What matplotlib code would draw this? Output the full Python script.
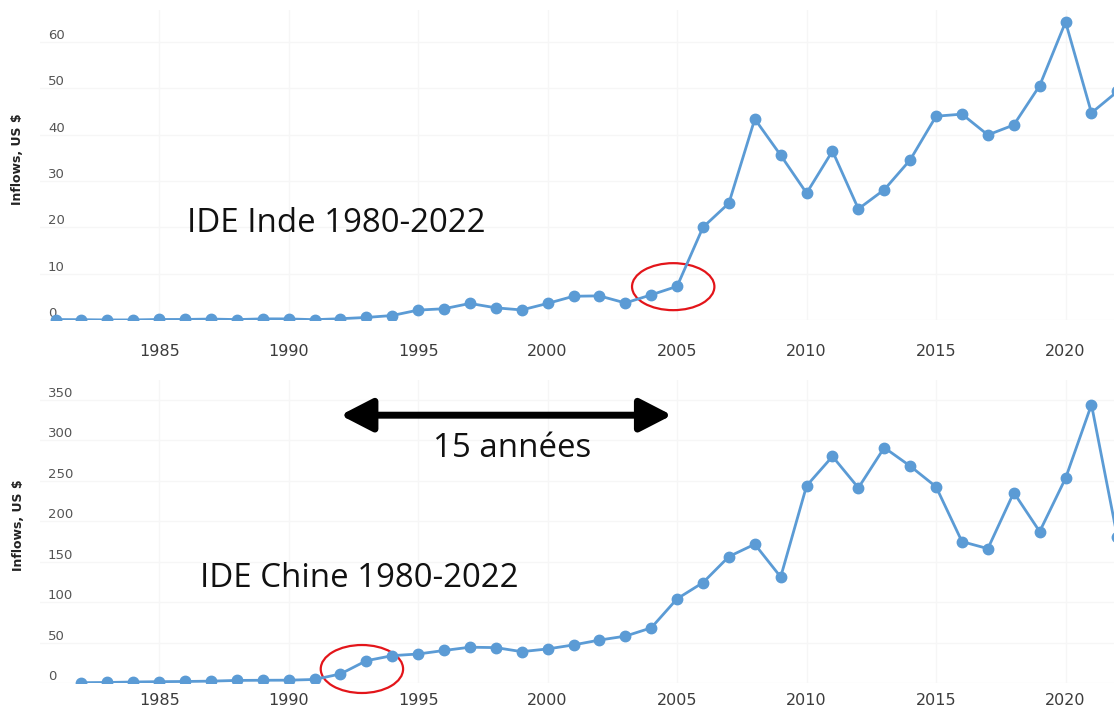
import matplotlib
matplotlib.use("Agg")
import matplotlib.pyplot as plt
from matplotlib.patches import Ellipse

# ---- data (US$ billions) ----
years_india = list(range(1981, 2023))
fdi_india = [0.10, 0.07, 0.01, 0.02, 0.11, 0.12, 0.21, 0.09, 0.25, 0.24,
             0.07, 0.28, 0.55, 0.97, 2.14, 2.43, 3.58, 2.63, 2.17, 3.58,
             5.13, 5.21, 3.68, 5.43, 7.27, 20.03, 25.23, 43.41, 35.58, 27.40,
             36.50, 23.99, 28.15, 34.58, 44.01, 44.46, 39.97, 42.12, 50.61, 64.36,
             44.73, 49.35]

years_china = list(range(1982, 2023))
fdi_china = [0.43, 0.64, 1.26, 1.66, 1.88, 2.31, 3.19, 3.39, 3.49, 4.37,
             11.16, 27.52, 33.79, 35.85, 40.18, 44.24, 43.75, 38.75, 42.10, 47.05,
             53.07, 57.90, 68.12, 104.11, 124.08, 156.25, 171.53, 131.06, 243.70, 280.07,
             241.21, 290.93, 268.10, 242.49, 174.75, 166.08, 235.37, 187.17, 253.10, 344.07,
             180.17]

x_ticks = [1985, 1990, 1995, 2000, 2005, 2010, 2015, 2020]
y_ticks_india = [0, 10, 20, 30, 40, 50, 60]
y_ticks_china = [0, 50, 100, 150, 200, 250, 300, 350]

title_india = "IDE Inde 1980-2022"
title_china = "IDE Chine 1980-2022"
arrow_label = "15 années"
ylabel = "Inflows, US $"

LINE = "#5b9bd5"
W, H = 1114, 706

fig = plt.figure(figsize=(W / 100, H / 100), dpi=100)
fig.patch.set_facecolor("white")

ax1 = fig.add_axes([40 / W, 1 - 320 / H, 1074 / W, 310 / H])
ax2 = fig.add_axes([40 / W, 1 - 683 / H, 1074 / W, 303 / H])

XLIM = (1980.4, 2021.87)


def style(ax, yticks, ylim, xpad):
    ax.set_xlim(*XLIM)
    ax.set_ylim(*ylim)
    for s in ax.spines.values():
        s.set_visible(False)
    ax.set_xticks(x_ticks)
    ax.set_yticks(yticks)
    ax.tick_params(axis="x", length=0, pad=xpad, labelsize=11.5, labelcolor="#3c3c3c")
    ax.tick_params(axis="y", length=0, pad=-5.8, labelsize=9.5, labelcolor="#555555")
    for lbl in ax.get_yticklabels():
        lbl.set_ha("left")
        lbl.set_va("bottom")
    ax.grid(True, color="#f6f6f6", linewidth=1.0)
    ax.set_axisbelow(True)
    ax.set_ylabel(ylabel, fontsize=9, fontweight="bold", color="#222222")


style(ax1, y_ticks_india, (0, 66.95), 17)
style(ax2, y_ticks_china, (0, 374.5), 7)
ax1.yaxis.set_label_coords(-0.0149, 0.519)
ax2.yaxis.set_label_coords(-0.0140, 0.521)

ax1.plot(years_india, fdi_india, color=LINE, lw=2.0, marker="o", ms=7.5,
         markerfacecolor=LINE, markeredgecolor=LINE)
ax2.plot(years_china, fdi_china, color=LINE, lw=2.0, marker="o", ms=7.5,
         markerfacecolor=LINE, markeredgecolor=LINE)

# annotations
FONT = "Open Sans"
FS = 23.8
ax1.text(1986.09, 19.0, title_india, fontsize=FS, family=FONT, color="#111111",
         va="baseline", ha="left")
ax2.text(1986.59, 118.7, title_china, fontsize=FS, family=FONT, color="#111111",
         va="baseline", ha="left")
ax2.text(1995.58, 279, arrow_label, fontsize=FS, family=FONT, color="#111111",
         va="baseline", ha="left")

ax2.annotate("", xy=(1992.0, 331), xytext=(2004.8, 331),
             arrowprops=dict(arrowstyle="<|-|>,head_length=0.97,head_width=0.5",
                             mutation_scale=20, lw=5, color="black",
                             shrinkA=0, shrinkB=0),
             annotation_clip=False)

ax1.add_patch(Ellipse((2004.85, 7.2), 3.18, 10.15, fill=False, edgecolor="#e3151a",
                      lw=1.6, clip_on=False))
ax2.add_patch(Ellipse((1992.83, 17.3), 3.18, 59.3, fill=False, edgecolor="#e3151a",
                      lw=1.6, clip_on=False))

fig.savefig("out.png", dpi=100)
